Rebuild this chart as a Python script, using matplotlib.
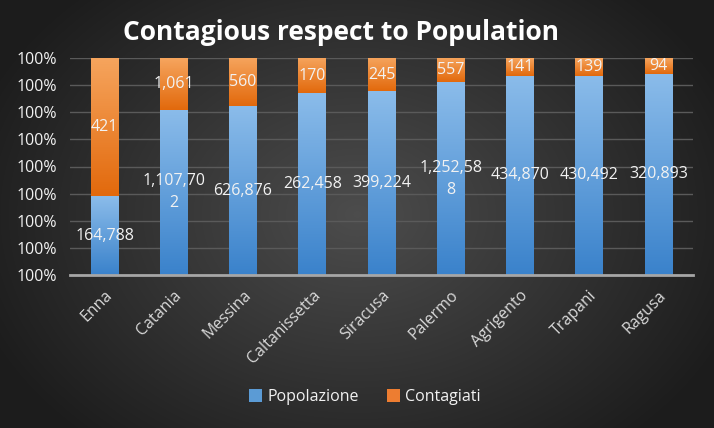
import numpy as np
import matplotlib
matplotlib.use("Agg")
import matplotlib.pyplot as plt
from matplotlib.colors import LinearSegmentedColormap
from matplotlib.ticker import FixedLocator, FuncFormatter
from matplotlib.patches import Patch

provinces = ["Enna", "Catania", "Messina", "Caltanissetta", "Siracusa",
             "Palermo", "Agrigento", "Trapani", "Ragusa"]
popolazione = [164788, 1107702, 626876, 262458, 399224, 1252588, 434870, 430492, 320893]
contagiati = [421, 1061, 560, 170, 245, 557, 141, 139, 94]
pop_labels = ["164,788", "1,107,70\n2", "626,876", "262,458", "399,224",
              "1,252,58\n8", "434,870", "430,492", "320,893"]
cont_labels = ["421", "1,061", "560", "170", "245", "557", "141", "139", "94"]

plt.rcParams['font.family'] = ['Open Sans', 'DejaVu Sans']

W, H = 714, 428
fig = plt.figure(figsize=(W / 100, H / 100), dpi=100)

# background radial gradient
bg = fig.add_axes([0, 0, 1, 1], zorder=-10)
yy, xx = np.mgrid[0:H, 0:W]
r = np.sqrt(((xx - W * 0.5) / (W * 0.6)) ** 2 + ((yy - H * 0.5) / (H * 0.75)) ** 2)
val = np.clip(0.30 - 0.20 * r, 0.11, 0.30)
bg.imshow(np.dstack([val, val, val]), aspect='auto', extent=[0, 1, 0, 1])
bg.axis('off')

L, R, T, B = 70, 693, 58, 275
ax = fig.add_axes([L / W, 1 - B / H, (R - L) / W, (B - T) / H])
ax.set_facecolor('none')

tot = np.array(popolazione, float) + np.array(contagiati, float)
fp = np.array(popolazione) / tot
fc = np.array(contagiati) / tot
x = np.arange(len(provinces))
ymin, ymax = 0.996, 1.0
bw = 0.40

blue_cmap = LinearSegmentedColormap.from_list('b', ['#3a82cb', '#8bbcea'])
orange_cmap = LinearSegmentedColormap.from_list('o', ['#e2690c', '#f6a55e'])
grad = np.linspace(0, 1, 256).reshape(-1, 1)

bars_b = ax.bar(x, fp, bw, color='#5b9bd5', zorder=2)
bars_o = ax.bar(x, fc, bw, bottom=fp, color='#ed7d31', zorder=2)
for i in range(len(x)):
    pb = bars_b[i]
    im = ax.imshow(grad, cmap=blue_cmap, origin='lower', aspect='auto',
                   extent=[x[i] - bw / 2, x[i] + bw / 2, ymin, fp[i]], zorder=3)
    im.set_clip_path(pb)
    po = bars_o[i]
    im2 = ax.imshow(grad, cmap=orange_cmap, origin='lower', aspect='auto',
                    extent=[x[i] - bw / 2, x[i] + bw / 2, fp[i], fp[i] + fc[i]], zorder=3)
    im2.set_clip_path(po)
    ax.text(x[i], (ymin + fp[i]) / 2, pop_labels[i], ha='center', va='center',
            color='#f2f2f2', fontsize=11.5, zorder=5, linespacing=1.5)
    ax.text(x[i], fp[i] + fc[i] / 2, cont_labels[i], ha='center', va='center',
            color='#f2f2f2', fontsize=11.5, zorder=5)

ax.set_xlim(-0.5, len(x) - 0.5)
ax.set_ylim(ymin, ymax)
ax.yaxis.set_major_locator(FixedLocator(np.linspace(ymin, ymax, 9)))
ax.yaxis.set_major_formatter(FuncFormatter(lambda v, p: "{:.0%}".format(v)))
ax.grid(axis='y', color='#5a5a5a', linewidth=1, zorder=0)
for s in ['top', 'right', 'left']:
    ax.spines[s].set_visible(False)
ax.spines['bottom'].set_color('#a6a6a6')
ax.spines['bottom'].set_linewidth(2)
ax.spines['bottom'].set_zorder(6)
ax.tick_params(axis='y', length=0, colors='#f2f2f2', labelsize=11.5, pad=9)
ax.tick_params(axis='x', length=0, colors='#d9d9d9', labelsize=11.5, pad=9)
ax.set_xticks(x)
ax.set_xticklabels(provinces, rotation=45, ha='right', rotation_mode='anchor')

fig.text(0.478, 1 - 33 / H, "Contagious respect to Population", ha='center', va='center',
         color='white', fontsize=19, fontweight='bold')

handles = [Patch(facecolor='#5b9bd5', edgecolor='none', label='Popolazione'),
           Patch(facecolor='#ed7d31', edgecolor='none', label='Contagiati')]
fig.legend(handles=handles, loc='center', bbox_to_anchor=(365 / W, 1 - 397 / H), ncol=2,
           frameon=False, fontsize=11.5, labelcolor='#f2f2f2', handlelength=0.8,
           handleheight=0.8, handletextpad=0.3, columnspacing=1.8)

fig.savefig('out.png', dpi=100)
